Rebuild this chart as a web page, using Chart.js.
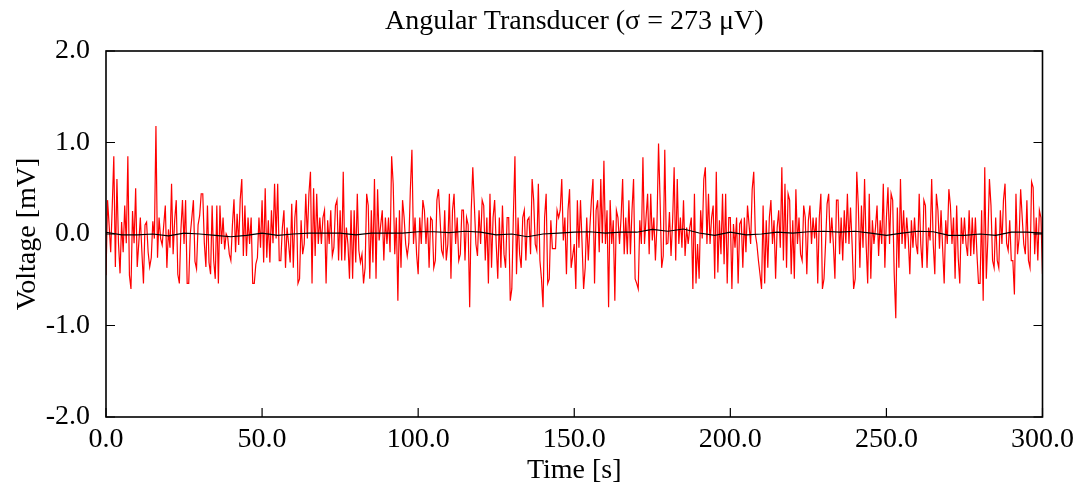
<!DOCTYPE html>
<html>
<head>
<meta charset="utf-8">
<script src="https://cdn.jsdelivr.net/npm/chart.js@4.4.0/dist/chart.umd.min.js"></script>
<style>
  html,body{margin:0;padding:0;background:#fff;}
  #wrap{width:1080px;height:491px;}
</style>
</head>
<body>
<div id="wrap"><canvas id="ang-chart" width="1080" height="491"></canvas></div>

<script>
// raw transducer signal, one value every 0.5 s, in mV
const sampleStep = 0.5;
const rawVolts = [
  -0.45, 0.37, 0.10,-0.20, 0.30, 0.85,-0.36, 0.60,-0.10,-0.43,
   0.13,-0.20, 0.31,-0.10, 0.85,-0.45,-0.60, 0.25,-0.10, 0.50,
  -0.36,-0.10, 0.18,-0.20,-0.54, 0.10, 0.13,-0.20,-0.36,-0.26,
   0.14,-0.05, 1.18,-0.26, 0.18,-0.05,-0.12, 0.10, 0.31,-0.37,
   0.05,-0.15, 0.55,-0.22, 0.15, 0.37,-0.44,-0.54, 0.05, 0.37,
  -0.11, 0.37,-0.54,-0.54, 0.00, 0.18, 0.37,-0.30,-0.38, 0.10,
   0.20, 0.44, 0.44,-0.10,-0.36, 0.31,-0.31,-0.44, 0.31,-0.29,
  -0.49, 0.31,-0.54, 0.31,-0.11, 0.18,-0.17, 0.00,-0.04,-0.22,
  -0.29, 0.10, 0.38,-0.20, 0.22,-0.12, 0.38, 0.60,-0.24, 0.31,
  -0.24, 0.18,-0.11, 0.18,-0.54,-0.54,-0.33,-0.26, 0.18,-0.15,
   0.37,-0.31, 0.50,-0.26, 0.15,-0.31, 0.26,-0.10, 0.55,-0.05,
   0.55,-0.29,-0.29, 0.07, 0.26,-0.37, 0.07,-0.11,-0.31, 0.33,
  -0.37, 0.18, 0.37,-0.54,-0.49, 0.15,-0.22,-0.11, 0.44,-0.05,
   0.44, 0.68,-0.54, 0.50,-0.24, 0.44,-0.11, 0.18,-0.11, 0.18,
   0.26,-0.54, 0.15,-0.11, 0.26,-0.24,-0.15, 0.31, 0.37,-0.29,
   0.26,-0.29, 0.68,-0.29, 0.07,-0.11,-0.49, 0.26,-0.49, 0.26,
  -0.31, 0.44,-0.18,-0.31,-0.22,-0.54,-0.37, 0.44, 0.31,-0.49,
   0.26,-0.31, 0.60,-0.49, 0.49,-0.07, 0.10, 0.26,-0.29, 0.18,
  -0.11, 0.18,-0.20, 0.85, 0.55,-0.22, 0.18,-0.73, 0.26,-0.37,
   0.37, 0.18,-0.11,-0.24,-0.10, 0.49, 0.92,-0.11, 0.18,-0.22,
  -0.44, 0.18,-0.11, 0.37, 0.26,-0.11, 0.18,-0.37, 0.18, 0.15,
  -0.37,-0.29, 0.37, 0.49, 0.18,-0.18,-0.24, 0.26,-0.29,-0.11,
   0.44,-0.49, 0.26, 0.44,-0.11, 0.18,-0.29,-0.22, 0.26, 0.26,
  -0.29, 0.18, 0.10,-0.80, 0.26, 0.73, 0.31,-0.11,-0.24, 0.26,
  -0.11, 0.37, 0.31,-0.29, 0.18,-0.54, 0.44,-0.37, 0.18, 0.37,
  -0.11,-0.49, 0.18,-0.37, 0.31,-0.22,-0.37, 0.18, 0.18,-0.73,
  -0.60, 0.20, 0.85,-0.44, 0.18,-0.22,-0.37, 0.18, 0.26,-0.29,
   0.15, 0.18,-0.22, 0.60, 0.37,-0.11,-0.18, 0.55,-0.29,-0.49,
  -0.80, 0.18, 0.44,-0.54,-0.49, 0.15,-0.16,-0.16,-0.16, 0.26,
   0.18, 0.26, 0.60,-0.07, 0.18,-0.44, 0.26, 0.49,-0.37,-0.24,
  -0.11,-0.60, 0.37,-0.15, 0.37,-0.10,-0.60,-0.37, 0.18,-0.29,
   0.07, 0.37, 0.60,-0.54, 0.26, 0.37,-0.20, 0.60,-0.10, 0.80,
  -0.11, 0.26,-0.80, 0.37,-0.11, 0.15,-0.73, 0.26, 0.18,-0.11,
   0.18, 0.60,-0.22, 0.18,-0.22, 0.37,-0.22, 0.26, 0.60,-0.49,
  -0.54,-0.60, 0.15,-0.11, 0.84,-0.11, 0.18, 0.44,-0.22, 0.44,
  -0.07, 0.18,-0.29, 0.10, 0.99, 0.37,-0.37,-0.24, 0.92,-0.11,
  -0.10, 0.24,-0.24, 0.13, 0.73,-0.29, 0.60,-0.11, 0.18,-0.15,
   0.37,-0.24, 0.07,-0.11, 0.07, 0.18,-0.60, 0.44,-0.54,-0.11,
  -0.49, 0.26,-0.05, 0.60, 0.73,-0.11, 0.44,-0.11, 0.18, 0.31,
  -0.49, 0.68,-0.42, 0.15,-0.22, 0.44,-0.33, 0.44,-0.54, 0.18,
   0.18,-0.60, 0.11,-0.15, 0.18,-0.54, 0.11, 0.15,-0.37, 0.18,
  -0.20, 0.31, 0.10,-0.11, 0.49, 0.68, 0.00,-0.11,-0.29,-0.44,
  -0.60, 0.31,-0.54, 0.15,-0.37, 0.18, 0.37,-0.11, 0.15,-0.49,
   0.07, 0.26,-0.15, 0.73,-0.29, 0.55,-0.37, 0.44, 0.37,-0.44,
   0.15,-0.49, 0.49,-0.11, 0.18,-0.22,-0.29, 0.31, 0.18,-0.44,
   0.15, 0.31,-0.11, 0.18,-0.05, 0.18,-0.54, 0.18, 0.44,-0.60,
  -0.49,-0.11, 0.33, 0.44,-0.10, 0.18,-0.11,-0.49, 0.37, 0.37,
  -0.22, 0.18,-0.29, 0.26,-0.10, 0.44,-0.11, 0.29,-0.10,-0.60,
  -0.49, 0.68, 0.31,-0.37, 0.31,-0.15, 0.60,-0.11,-0.54, 0.44,
  -0.49, 0.15,-0.11, 0.07, 0.31,-0.24, 0.15,-0.11, 0.55,-0.37,
   0.18, 0.51,-0.11, 0.44, 0.37,-0.44,-0.92, 0.29,-0.37, 0.60,
  -0.11, 0.26,-0.16, 0.18,-0.05,-0.44, 0.15,-0.15, 0.18,-0.11,
  -0.22, 0.44,-0.11,-0.37, 0.37, 0.31,-0.37, 0.07,-0.07, 0.60,
  -0.11,-0.44, 0.44, 0.26,-0.16, 0.26,-0.15,-0.54, 0.15,-0.11,
   0.49, 0.31,-0.11, 0.18,-0.49, 0.31,-0.26,-0.54, 0.18,-0.11,
   0.18,-0.11,-0.24, 0.26,-0.24, 0.18,-0.22, 0.18,-0.22,-0.54,
  -0.54, 0.26,-0.73, 0.73,-0.49,-0.05, 0.60, 0.31,-0.29,-0.37,
   0.18,-0.29,-0.37, 0.26,-0.11, 0.37, 0.55,-0.10,-0.18, 0.15,
  -0.29,-0.29,-0.66, 0.44,-0.22,-0.05, 0.49, 0.18,-0.11,-0.22,
   0.37,-0.29,-0.37, 0.57, 0.51,-0.22, 0.18,-0.29, 0.26, 0.18,
  -0.44
];

// smoothed trace (black), one value every 5 s
const trendStep = 5;
const trendVolts = [
   0.02,-0.01,-0.01, 0.00,-0.02, 0.01, 0.00,-0.015,-0.03,-0.015,
   0.01,-0.015, 0.00, 0.01, 0.01, 0.01,-0.01, 0.01, 0.01, 0.01,
   0.025, 0.025, 0.015, 0.03, 0.02,-0.01, 0.00,-0.03, 0.00, 0.01,
   0.02, 0.025, 0.01, 0.02, 0.02, 0.05, 0.03, 0.055, 0.01,-0.015,
   0.02,-0.01, 0.00, 0.02, 0.01, 0.025, 0.03, 0.02, 0.03, 0.01,
  -0.015, 0.01, 0.03, 0.025,-0.015,-0.015, 0.00,-0.015, 0.02, 0.02,
   0.01
];

const xTicks = [0, 50, 100, 150, 200, 250, 300];
const yTicks = [-2, -1, 0, 1, 2];

const serif = '"Liberation Serif", "Times New Roman", serif';
Chart.defaults.font.family = serif;
Chart.defaults.color = '#000';

// inward tick marks (bottom, left, right) + closed frame
const frameTicks = {
  id: 'frameTicks',
  afterDatasetsDraw(chart){
    const {ctx, chartArea: a, scales: {x, y}} = chart;
    ctx.save();
    ctx.strokeStyle = '#000';
    ctx.lineWidth = 1.2;
    ctx.beginPath();
    xTicks.forEach(v => {
      const px = x.getPixelForValue(v);
      ctx.moveTo(px, a.bottom); ctx.lineTo(px, a.bottom - 9);
    });
    yTicks.forEach(v => {
      const py = y.getPixelForValue(v);
      ctx.moveTo(a.left, py); ctx.lineTo(a.left + 9, py);
      ctx.moveTo(a.right, py); ctx.lineTo(a.right - 9, py);
    });
    ctx.stroke();
    ctx.lineWidth = 1.6;
    ctx.strokeRect(a.left, a.top, a.right - a.left, a.bottom - a.top);
    ctx.restore();
  }
};

const ctx = document.getElementById('ang-chart').getContext('2d');
new Chart(ctx, {
  type: 'line',
  data: {
    datasets: [
      {label: 'Trend', data: trendVolts.map((v, i) => ({x: i * trendStep, y: v})),
       borderColor: '#000000', borderWidth: 1.1, pointRadius: 0, tension: 0, fill: false},
      {label: 'Signal', data: rawVolts.map((v, i) => ({x: i * sampleStep, y: v})),
       borderColor: '#ff0000', borderWidth: 1.2, pointRadius: 0, tension: 0, fill: false}
    ]
  },
  options: {
    responsive: false,
    animation: false,
    layout: {padding: {top: 0, right: 36, bottom: 0, left: 0}},
    plugins: {
      legend: {display: false},
      tooltip: {enabled: false},
      title: {
        display: true, fullSize: false,
        text: 'Angular Transducer (σ = 273 μV)',
        font: {family: serif, size: 28, weight: 'normal'},
        color: '#000',
        padding: {top: 5.2, bottom: 12.2}
      }
    },
    scales: {
      x: {
        type: 'linear', min: 0, max: 300,
        afterFit: s => { s.height = 74; },
        afterBuildTicks: s => { s.ticks = xTicks.map(v => ({value: v})); },
        ticks: {callback: v => v.toFixed(1), font: {size: 28}, padding: 6, maxRotation: 0, color: '#000'},
        grid: {display: false, drawTicks: false},
        border: {display: false},
        title: {display: true, text: 'Time [s]', font: {size: 28}, color: '#000', padding: {top: 0, bottom: 4}}
      },
      y: {
        min: -2, max: 2,
        afterFit: s => { s.width = 106; },
        afterBuildTicks: s => { s.ticks = yTicks.map(v => ({value: v})); },
        ticks: {callback: v => v.toFixed(1), font: {size: 28}, padding: 16, color: '#000'},
        grid: {display: false, drawTicks: false},
        border: {display: false},
        title: {display: true, text: 'Voltage [mV]', font: {size: 28}, color: '#000', padding: {top: 11, bottom: 0}}
      }
    }
  },
  plugins: [frameTicks]
});
</script>
</body>
</html>
